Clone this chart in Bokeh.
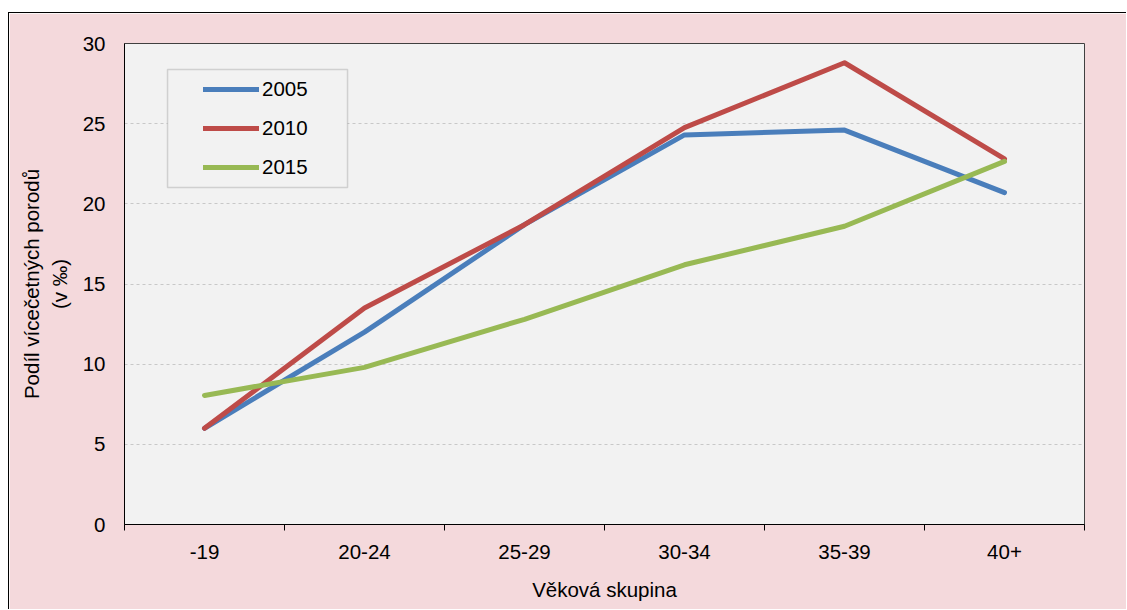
from bokeh.plotting import figure
from bokeh.models import (Range1d, FixedTicker, Legend, LegendItem, BoxAnnotation, Spacer)
from bokeh.layouts import column, row
from bokeh.embed import file_html
from bokeh.resources import INLINE

categories = ["-19", "20-24", "25-29", "30-34", "35-39", "40+"]
series_names = ["2005", "2010", "2015"]
values_2005 = [6.0, 12.0, 18.7, 24.3, 24.6, 20.7]
values_2010 = [6.0, 13.5, 18.7, 24.75, 28.8, 22.8]
values_2015 = [8.05, 9.8, 12.8, 16.2, 18.6, 22.65]
y_ticks = [0, 5, 10, 15, 20, 25, 30]
colors = ["#4A7EBB", "#BE4B48", "#98B954"]

PINK = "#F4D9DC"
FONT = "Liberation Sans"
FS = "20.5px"

p = figure(width=1118, height=597, output_backend="svg", toolbar_location=None,
           x_range=Range1d(0, len(categories)), y_range=Range1d(0, 30),
           min_border_left=115, min_border_right=43, min_border_top=30, min_border_bottom=86)
p.background_fill_color = "#F2F2F2"
p.border_fill_color = PINK
p.outline_line_color = "#404040"
p.outline_line_width = 1
p.styles = {"border-left": "1px solid #000", "border-top": "1px solid #000"}

xs = [i + 0.5 for i in range(len(categories))]

# x axis
p.xaxis.ticker = FixedTicker(ticks=xs, minor_ticks=list(range(len(categories) + 1)))
p.xaxis.major_label_overrides = {x: c for x, c in zip(xs, categories)}
p.xaxis.major_tick_out = 0
p.xaxis.major_tick_in = 0
p.xaxis.minor_tick_out = 6
p.xaxis.minor_tick_in = 0
p.xaxis.minor_tick_line_color = "#000000"
p.xaxis.axis_line_color = "#000000"
p.xaxis.major_label_standoff = 14
p.xaxis.axis_label = "Věková skupina"
p.xaxis.axis_label_standoff = 16

# y axis
p.yaxis.ticker = FixedTicker(ticks=y_ticks)
p.yaxis.major_tick_out = 0
p.yaxis.major_tick_in = 0
p.yaxis.minor_tick_line_color = None
p.yaxis.axis_line_color = "#000000"
p.yaxis.major_label_standoff = 19
p.yaxis.axis_label = "Podíl vícečetných porodů\n(v ‰)"
p.yaxis.axis_label_standoff = 9

for ax in (p.xaxis, p.yaxis):
    ax.major_label_text_font = FONT
    ax.major_label_text_font_size = FS
    ax.major_label_text_color = "#000000"
    ax.axis_label_text_font = FONT
    ax.axis_label_text_font_size = FS
    ax.axis_label_text_font_style = "normal"
    ax.axis_label_text_color = "#000000"

p.xgrid.grid_line_color = None
p.ygrid.grid_line_color = "#C8C8C8"
p.ygrid.grid_line_dash = "3 3"
p.ygrid.grid_line_width = 1

renderers = []
for vals, c in zip([values_2005, values_2010, values_2015], colors):
    r = p.line(xs, vals, line_color=c, line_width=5, line_cap="round", line_join="round")
    renderers.append(r)

# legend box
box = BoxAnnotation(left=0.269, right=1.394, top=28.38, bottom=21.02,
                    fill_color="#F2F2F2", fill_alpha=1.0,
                    line_color="#808080", line_width=1.5)
p.add_layout(box)

legend = Legend(items=[LegendItem(label=n, renderers=[r]) for n, r in zip(series_names, renderers)],
                location=(79, 345), padding=0, margin=0, spacing=15,
                glyph_width=56, glyph_height=20, label_standoff=3,
                label_text_font=FONT, label_text_font_size=FS,
                label_text_color="#000000",
                background_fill_alpha=0, border_line_color=None)
p.add_layout(legend)

layout = column(Spacer(height=12), row(Spacer(width=8), p))
open("out.html", "w").write(file_html(layout, INLINE))
